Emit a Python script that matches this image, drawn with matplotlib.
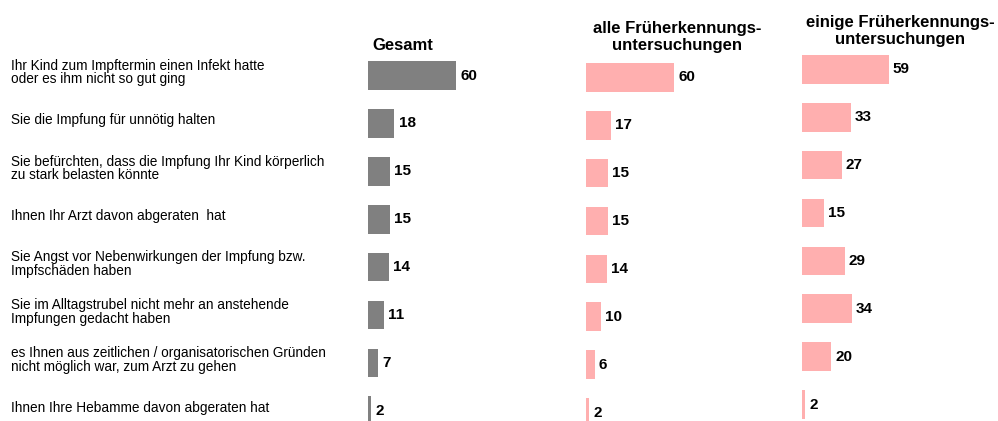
import matplotlib.pyplot as plt
import matplotlib.transforms as mtransforms

plt.rcParams['font.family'] = ['Liberation Sans', 'DejaVu Sans']

reasons = [
    'Ihr Kind zum Impftermin einen Infekt hatte\noder es ihm nicht so gut ging',
    'Sie die Impfung für unnötig halten',
    'Sie befürchten, dass die Impfung Ihr Kind körperlich\nzu stark belasten könnte',
    'Ihnen Ihr Arzt davon abgeraten  hat',
    'Sie Angst vor Nebenwirkungen der Impfung bzw.\nImpfschäden haben',
    'Sie im Alltagstrubel nicht mehr an anstehende\nImpfungen gedacht haben',
    'es Ihnen aus zeitlichen / organisatorischen Gründen\nnicht möglich war, zum Arzt zu gehen',
    'Ihnen Ihre Hebamme davon abgeraten hat',
]

gesamt = [60, 18, 15, 15, 14, 11, 7, 2]
alle_fu = [60, 17, 15, 15, 14, 10, 6, 2]
einige_fu = [59, 33, 27, 15, 29, 34, 20, 2]

titles = ['Gesamt', 'alle Früherkennungs-\nuntersuchungen', 'einige Früherkennungs-\nuntersuchungen']

W, H = 998, 421
fig = plt.figure(figsize=(W / 100, H / 100), dpi=100)

ROW = 47.9  # px between rows


def add_panel(left, row0, unit):
    # left edge of bars, centre of first bar and px per percent, all in pixels
    width = 100 * unit
    height = 8 * ROW
    top = row0 - ROW / 2
    ax = fig.add_axes([left / W, 1 - (top + height) / H, width / W, height / H])
    ax.set_xlim(0, 100)
    ax.set_ylim(7.5, -0.5)
    ax.axis('off')
    return ax


ax1 = add_panel(368, 75.5, 1.467)
ax2 = add_panel(586, 77.3, 1.467)
ax3 = add_panel(802, 69.3, 1.47)

rows = range(len(reasons))
for ax, vals, col in [(ax1, gesamt, '#808080'), (ax2, alle_fu, '#FFAFAF'), (ax3, einige_fu, '#FFAFAF')]:
    ax.barh(rows, vals, height=0.6, color=col, clip_on=False)
    for i, v in zip(rows, vals):
        ax.annotate(str(v), (v, i), xytext=(3, 0), textcoords='offset points',
                    ha='left', va='center', fontsize=11, fontweight='bold',
                    annotation_clip=False)

# reason labels, left side, aligned with the first panel rows
trans = mtransforms.blended_transform_factory(fig.transFigure, ax1.transData)
trans = mtransforms.offset_copy(trans, fig=fig, y=3, units='dots')
for i, lab in zip(rows, reasons):
    ax1.text(11 / W, i, lab, transform=trans, ha='left', va='center',
             fontsize=9.8, linespacing=0.95, clip_on=False)

fig.text(403 / W, 1 - 45 / H, titles[0], ha='center', va='center', fontsize=12, fontweight='bold')
fig.text(677 / W, 1 - 37 / H, titles[1], ha='center', va='center', fontsize=12,
         fontweight='bold', linespacing=1.1)
fig.text(900 / W, 1 - 31 / H, titles[2], ha='center', va='center', fontsize=12,
         fontweight='bold', linespacing=1.1)

fig.savefig('out.png', dpi=100)
